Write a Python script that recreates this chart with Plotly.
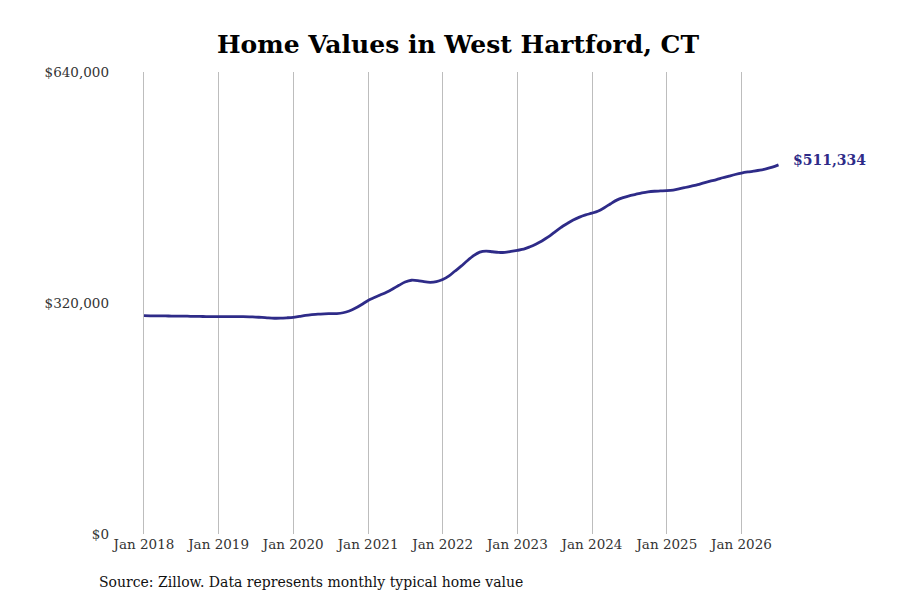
import plotly.graph_objects as go
import pandas as pd

# Monthly typical home value, West Hartford CT
months = pd.date_range("2018-01-01", "2026-07-01", freq="MS")
values = [
    302400, 302300, 302200, 302100, 302000, 301900, 301800, 301700, 301500, 301400, 301200, 301100,  # 2018
    301000, 301100, 301200, 301200, 301100, 300900, 300500, 300000, 299300, 298900, 299000, 299500,  # 2019
    300200, 301500, 302800, 303800, 304600, 305000, 305200, 305400, 306500, 309000, 313000, 318000,  # 2020
    323500, 327500, 331000, 335000, 339500, 344500, 349000, 351500, 351000, 349500, 348700, 349500,  # 2021
    352500, 357500, 364000, 371000, 378500, 385500, 390500, 392000, 391000, 390000, 390200, 391500,  # 2022
    393000, 394500, 397500, 401500, 406000, 411500, 418000, 424500, 430000, 435000, 439000, 442000,  # 2023
    444500, 447500, 452000, 457500, 462500, 466000, 468500, 470500, 472500, 474000, 474800, 475200,  # 2024
    475600, 476500, 478000, 480000, 482000, 484000, 486500, 488800, 491000, 493500, 495800, 498000,  # 2025
    500000, 501500, 502600, 504000, 505800, 508200, 511334,                                          # 2026
]
y_ticks = [0, 320000, 640000]
y_tick_labels = ["$0", "$320,000", "$640,000"]

line_color = "#2e2b88"
font_family = "DejaVu Serif"

fig = go.Figure()
fig.add_trace(go.Scatter(
    x=months, y=values, mode="lines",
    line=dict(color=line_color, width=2.8, shape="spline", smoothing=0.8),
    hoverinfo="skip",
))

# label for the latest value
fig.add_annotation(
    x=months[-1], y=values[-1], text="<b>$" + f"{values[-1]:,}" + "</b>",
    showarrow=False, xanchor="left", xshift=12, yshift=5,
    font=dict(family=font_family, size=14, color=line_color),
)

fig.add_annotation(
    xref="paper", yref="paper", x=-0.0186, y=-0.104,
    text="Source: Zillow. Data represents monthly typical home value",
    showarrow=False, xanchor="left", yanchor="middle",
    font=dict(family=font_family, size=14, color="#111111"),
)

fig.update_layout(
    width=900, height=600,
    paper_bgcolor="white", plot_bgcolor="white",
    margin=dict(l=102, r=98, t=64, b=74),
    showlegend=False,
    font=dict(family=font_family, size=13.5, color="#333333"),
    title=dict(
        text="<b>Home Values in West Hartford, CT</b>",
        x=0.5, xanchor="center", y=1 - 36 / 600, yanchor="middle",
        font=dict(family=font_family, size=25, color="#000000"),
    ),
    xaxis=dict(
        range=["2017-07-19", "2026-12-02"],
        tick0="2018-01-01", dtick="M12", tickformat="%b %Y",
        showgrid=True, gridcolor="#bdbdbd", gridwidth=1,
        zeroline=False, showline=False, ticks="",
        tickfont=dict(size=13.5, color="#333333"),
    ),
    yaxis=dict(
        range=[0, 640000], tickvals=y_ticks, ticktext=y_tick_labels,
        showgrid=False, zeroline=False, showline=False, ticks="",
        tickfont=dict(size=13.5, color="#333333"),
    ),
)

fig.write_html("out.html")
